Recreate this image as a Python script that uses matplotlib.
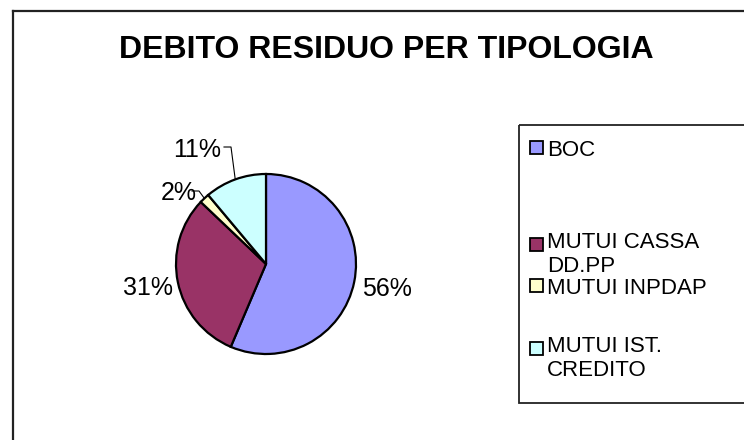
import matplotlib
matplotlib.use("Agg")
import matplotlib.pyplot as plt
import numpy as np
from matplotlib.patches import Rectangle
from matplotlib.lines import Line2D

plt.rcParams['font.family'] = ['Liberation Sans', 'DejaVu Sans']

title = "DEBITO RESIDUO PER TIPOLOGIA"
categories = ["BOC", "MUTUI CASSA\nDD.PP", "MUTUI INPDAP", "MUTUI IST.\nCREDITO"]
values = [56.4, 30.7, 1.8, 11.1]
colors = ["#9999FF", "#993366", "#FFFFCC", "#CCFFFF"]

W, H = 744, 440
fig = plt.figure(figsize=(W / 100, H / 100), dpi=100)

# overlay axes in pixel coordinates
ov = fig.add_axes([0, 0, 1, 1])
ov.set_xlim(0, W)
ov.set_ylim(H, 0)
ov.axis('off')

# chart frame
ov.add_line(Line2D([13, 13], [11, H + 5], color='#222222', lw=1.6))
ov.add_line(Line2D([13, W + 5], [11, 11], color='#222222', lw=1.6))

# title
ov.text(386, 58, title, ha='center', va='baseline', fontsize=23, fontweight='bold')

# pie
cx, cy, r = 266, 264, 90
pax = fig.add_axes([(cx - r) / W, (H - cy - r) / H, 2 * r / W, 2 * r / H])
wedges, _ = pax.pie(values, colors=colors, startangle=90, counterclock=False,
                    wedgeprops=dict(edgecolor='black', linewidth=1.6))
pax.set_xlim(-1, 1)
pax.set_ylim(-1, 1)
pax.axis('off')
for w in wedges:
    w.set_clip_on(False)

# percentage labels (pixel positions: centre x, baseline y)
pcts = [round(v) for v in values]
label_px = [(387, 296), (148, 295), (179, 200), (197, 157)]
leader = [False, False, True, True]
for w, p, (lx, ly), ld in zip(wedges, pcts, label_px, leader):
    ov.text(lx, ly, f"{p}%", ha='center', va='baseline', fontsize=18)
    if ld:
        th = np.deg2rad((w.theta1 + w.theta2) / 2)
        ex = cx + r * np.cos(th)
        ey = cy - r * np.sin(th)
        if p >= 10:
            sx = lx + 27
            ov.add_line(Line2D([sx, sx + 7, ex], [ly - 10, ly - 10, ey], color='black', lw=0.8))
        else:
            sx = lx + 13
            ov.add_line(Line2D([sx, sx + 7, ex], [ly - 9, ly - 9, ey], color='black', lw=0.8))

# legend box
ov.add_patch(Rectangle((519, 125), W + 20 - 519, 403 - 125, fill=False,
                       edgecolor='#222222', lw=1.3))
row_base = [156, 253, 294, 357]
line_step = 19
for cat, col, yb in zip(categories, colors, row_base):
    ov.add_patch(Rectangle((530, yb - 15), 13, 13, facecolor=col, edgecolor='black', lw=1.3))
    n = cat.count("\n")
    ov.text(547, yb + n * line_step, cat, ha='left', va='baseline', fontsize=16,
            linespacing=1.17)

fig.savefig("out.png", dpi=100)
